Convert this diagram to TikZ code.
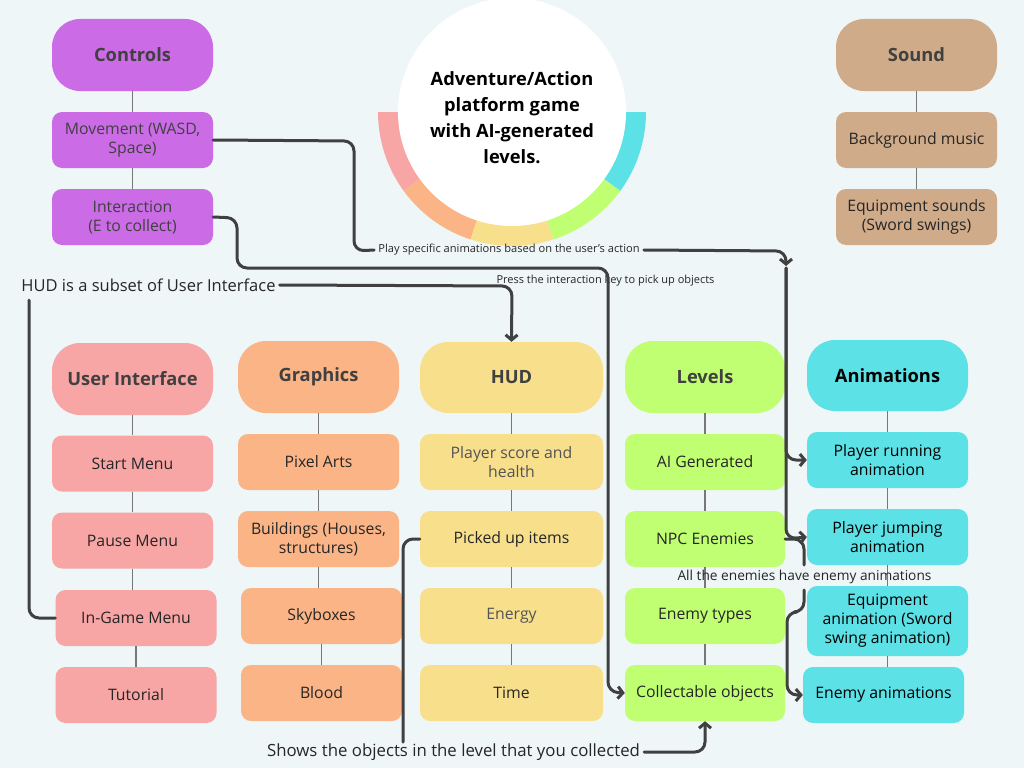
\documentclass[tikz,border=0pt]{standalone}
\usepackage{fontspec}
\setmainfont{Open Sans}
\usetikzlibrary{arrows.meta}
\definecolor{bg}{HTML}{EEF6F7}
\definecolor{purp}{HTML}{CB6CE6}
\definecolor{tan}{HTML}{D0AB8A}
\definecolor{pinkc}{HTML}{F8A5A5}
\definecolor{orng}{HTML}{FBB486}
\definecolor{yell}{HTML}{F8DF8C}
\definecolor{lime}{HTML}{C1FF72}
\definecolor{cyan}{HTML}{5CE1E6}
\definecolor{hdrtxt}{HTML}{404040}
\definecolor{itemtxt}{HTML}{262626}
\definecolor{softtxt}{HTML}{545454}
\definecolor{linkc}{HTML}{404040}
\definecolor{thing}{HTML}{777777}
\begin{document}
\begin{tikzpicture}[x=1pt,y=-1pt,
  hdr/.style={rounded corners=28pt, minimum width=161pt, minimum height=72pt, inner sep=0pt, align=center, text=hdrtxt, font=\fontsize{18.3}{21}\selectfont\bfseries},
  item/.style={rounded corners=10pt, minimum width=161pt, minimum height=56pt, inner sep=0pt, align=center, text=itemtxt, font=\fontsize{15.8}{19}\selectfont},
  thin/.style={draw=thing, line width=1.3pt},
  link/.style={draw=linkc, line width=3pt, rounded corners=10pt, line cap=round},
  arr/.style={-{Straight Barb[length=5pt,width=12pt]}},
  lbl/.style={inner ysep=0pt, inner xsep=4pt, text=itemtxt}
]
\fill[bg] (0,0) rectangle (1024,768);
\useasboundingbox (0,0) rectangle (1024,768);

% title circle with ring
\coordinate (C) at (512,112);
\fill[pinkc] (C) ++(180:134pt) arc[start angle=180,end angle=216,radius=134pt] -- ++(216:-21pt) arc[start angle=216,end angle=180,radius=113pt] -- cycle;
\fill[orng] (C) ++(216:134pt) arc[start angle=216,end angle=252,radius=134pt] -- ++(252:-21pt) arc[start angle=252,end angle=216,radius=113pt] -- cycle;
\fill[yell] (C) ++(252:134pt) arc[start angle=252,end angle=288,radius=134pt] -- ++(288:-21pt) arc[start angle=288,end angle=252,radius=113pt] -- cycle;
\fill[lime] (C) ++(288:134pt) arc[start angle=288,end angle=324,radius=134pt] -- ++(324:-21pt) arc[start angle=324,end angle=288,radius=113pt] -- cycle;
\fill[cyan] (C) ++(324:134pt) arc[start angle=324,end angle=360,radius=134pt] -- ++(360:-21pt) arc[start angle=360,end angle=324,radius=113pt] -- cycle;
\fill[white] (C) circle[radius=114pt];
\node[align=center, font=\fontsize{18.3}{26}\selectfont\bfseries, text=black] (title) at (512,118) {Adventure/Action\\platform game\\with AI-generated\\levels.};

% Controls
\node[hdr, fill=purp] (ctrl) at (132.5,55) {Controls};
\node[item, fill=purp, text=hdrtxt] (mov) at (132.5,140) {Movement (WASD,\\Space)};
\node[item, fill=purp, text=hdrtxt] (inter) at (132.5,217) {Interaction\\(E to collect)};
% Sound
\node[hdr, fill=tan] (snd) at (916.5,55) {Sound};
\node[item, fill=tan] (bgm) at (916.5,140) {Background music};
\node[item, fill=tan] (eqs) at (916.5,217) {Equipment sounds\\(Sword swings)};
% User interface
\node[hdr, fill=pinkc] (ui) at (132.5,379) {User Interface};
\node[item, fill=pinkc] (start) at (132.5,463.5) {Start Menu};
\node[item, fill=pinkc] (pause) at (132.5,540.5) {Pause Menu};
\node[item, fill=pinkc] (ingame) at (136,618) {In-Game Menu};
\node[item, fill=pinkc] (tut) at (136,695) {Tutorial};
% Graphics
\node[hdr, fill=orng] (gfx) at (318.5,377) {Graphics};
\node[item, fill=orng] (pix) at (318.5,462) {Pixel Arts};
\node[item, fill=orng] (bld) at (318.5,539) {Buildings (Houses,\\structures)};
\node[item, fill=orng] (sky) at (321.5,616) {Skyboxes};
\node[item, fill=orng] (blood) at (321.5,693) {Blood};
% HUD
\node[hdr, fill=yell, minimum width=183pt, minimum height=71pt] (hud) at (511.5,377.5) {HUD};
\node[item, fill=yell, minimum width=183pt, text=softtxt] (score) at (511.5,462) {Player score and\\health};
\node[item, fill=yell, minimum width=183pt] (picked) at (511.5,539) {Picked up items};
\node[item, fill=yell, minimum width=183pt, text=softtxt] (energy) at (511.5,616) {Energy};
\node[item, fill=yell, minimum width=183pt] (time) at (511.5,693) {Time};
% Levels
\node[hdr, fill=lime, minimum width=160pt] (lvl) at (705,377) {Levels};
\node[item, fill=lime, minimum width=160pt] (aigen) at (705,462) {AI Generated};
\node[item, fill=lime, minimum width=160pt] (npc) at (705,539) {NPC Enemies};
\node[item, fill=lime, minimum width=160pt] (etypes) at (705,616) {Enemy types};
\node[item, fill=lime, minimum width=160pt] (coll) at (705,693) {Collectable objects};
% Animations
\node[hdr, fill=cyan, text=black, minimum height=71pt] (anim) at (887.5,375.5) {Animations};
\node[item, fill=cyan, text=black] (run) at (887.5,460) {Player running\\animation};
\node[item, fill=cyan, text=black] (jump) at (887.5,537) {Player jumping\\animation};
\node[item, fill=cyan, text=black, minimum height=70pt] (equip) at (887.5,621) {Equipment\\animation (Sword\\swing animation)};
\node[item, fill=cyan, text=black] (enanim) at (883.5,695) {Enemy animations};

% thin tree lines
\foreach \a/\b in {ctrl/mov, mov/inter, snd/bgm, bgm/eqs, ui/start, start/pause, pause/ingame, ingame/tut, gfx/pix, pix/bld, bld/sky, sky/blood, hud/score, score/picked, picked/energy, energy/time, lvl/aigen, aigen/npc, npc/etypes, etypes/coll, anim/run, run/jump, jump/equip, equip/enanim}
  \draw[thin] (\a.south) -- (\a.south |- \b.north);

% labels
\node[lbl, font=\fontsize{11.1}{13}\selectfont] (playlbl) at (509,250) {Play specific animations based on the user's action};
\node[lbl, font=\fontsize{11}{13}\selectfont] (presslbl) at (605.5,281) {Press the interaction key to pick up objects};
\node[lbl, font=\fontsize{16.5}{19}\selectfont] (hudlbl) at (148.5,285) {HUD is a subset of User Interface};
\node[lbl, font=\fontsize{16.8}{19}\selectfont] (showlbl) at (453.5,752) {Shows the objects in the level that you collected};
\node[lbl, font=\fontsize{13.7}{16}\selectfont] (enlbl) at (804.5,577) {All the enemies have enemy animations};

% thick connectors
\coordinate (jct) at (786,268);
\draw[link] (mov.east) -- (354,141) -- (354,251) -- (playlbl.west);
\draw[link, arr] (playlbl.east) -- (786,251) -- (786,266);
\draw[link, arr] (jct) -- (786,460) -- (run.west);
\draw[link, arr] (jct) -- (786,539) -- (jump.west);
\draw[link, arr] (inter.east) -- (237,218) -- (237,268) -- (608,268) -- (608,692) -- (coll.west);
\draw[link] (ingame.west) -- (29,618) -- (29,300);
\draw[link, arr] (hudlbl.east) -- (512,286) -- (hud.north);
\draw[link] (picked.west) -- (403,539) -- (403,742);
\draw[link, arr] (showlbl.east) -- (705,752) -- (coll.south);
\draw[link] (npc.east) -- (804,539) -- (804,565);
\draw[link, arr] (804,590) -- (804,612) -- (787,612) -- (787,695) -- (enanim.west);
\end{tikzpicture}
\end{document}
